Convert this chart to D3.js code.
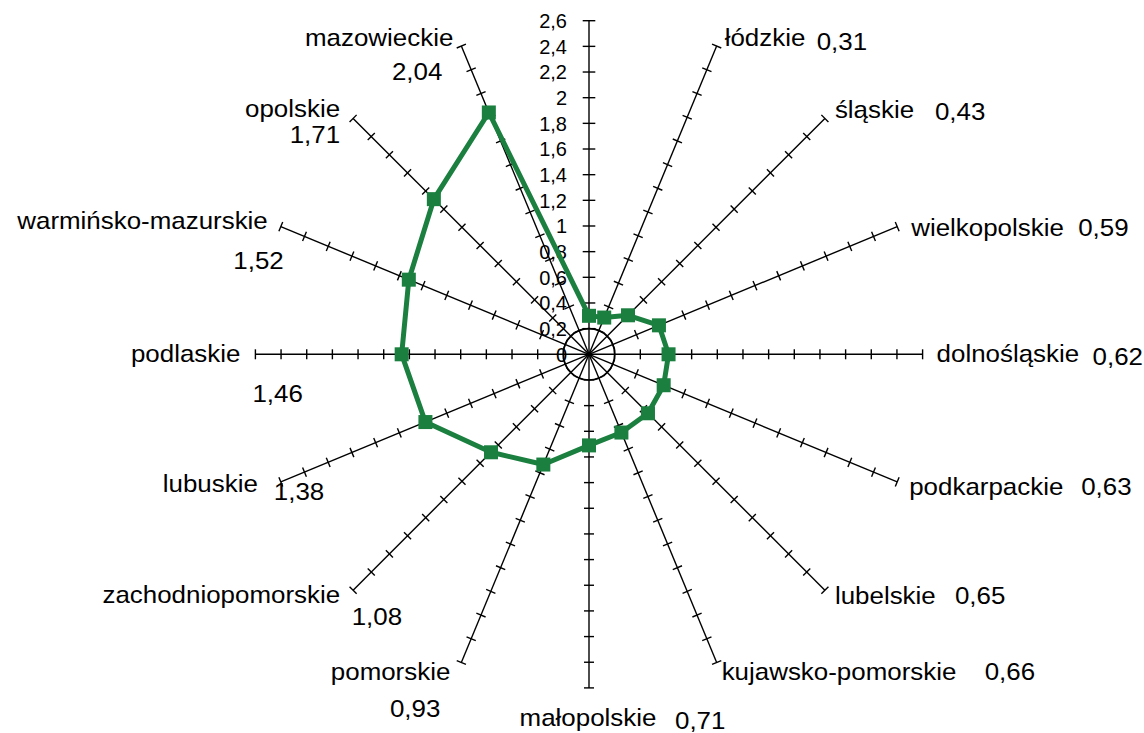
<!DOCTYPE html>
<html><head><meta charset="utf-8">
<script src="https://cdn.jsdelivr.net/npm/d3@7"></script>
<style>body{margin:0;background:#fff}svg{display:block}text{font-family:"Liberation Sans",Arial,sans-serif;fill:#000}</style>
</head><body><svg id="c" width="1144" height="733"></svg>
<script>
// ---- data ----
const categories = ["świętokrzyskie","łódzkie","śląskie","wielkopolskie","dolnośląskie","podkarpackie","lubelskie","kujawsko-pomorskie","małopolskie","pomorskie","zachodniopomorskie","lubuskie","podlaskie","warmińsko-mazurskie","opolskie","mazowieckie"];
const values = [0.30,0.31,0.43,0.59,0.62,0.63,0.65,0.66,0.71,0.93,1.08,1.38,1.46,1.52,1.71,2.04];
const labelShown = [false,true,true,true,true,true,true,true,true,true,true,true,true,true,true,true];
const tickValues = [0.2,0.4,0.6,0.8,1,1.2,1.4,1.6,1.8,2,2.2,2.4,2.6];
const tickLabels = ["0","0,2","0,4","0,6","0,8","1","1,2","1,4","1,6","1,8","2","2,2","2,4","2,6"];

// ---- label layout (offsets from each axis end) ----
const labelLayout = [
  null,
  {na:"start",ndx:8,ndy:0,va:"start",vdx:100,vdy:4},
  {na:"start",ndx:10,ndy:0,va:"start",vdx:110,vdy:2},
  {na:"start",ndx:14,ndy:9,va:"start",vdx:181,vdy:9},
  {na:"start",ndx:14,ndy:8,va:"start",vdx:170,vdy:11},
  {na:"start",ndx:12,ndy:13,va:"start",vdx:184,vdy:13},
  {na:"start",ndx:10,ndy:14,va:"start",vdx:130,vdy:14},
  {na:"start",ndx:5,ndy:17,va:"start",vdx:268,vdy:17},
  {na:"middle",ndx:-1,ndy:38,va:"start",vdx:86,vdy:41},
  {na:"end",ndx:-11,ndy:17,va:"end",vdx:-21,vdy:54},
  {na:"end",ndx:-13,ndy:13,va:"end",vdx:49,vdy:35},
  {na:"end",ndx:-23,ndy:10,va:"start",vdx:-7,vdy:18},
  {na:"end",ndx:-15,ndy:8,va:"start",vdx:-3,vdy:48},
  {na:"end",ndx:-13,ndy:2,va:"end",vdx:3,vdy:42},
  {na:"end",ndx:-13,ndy:-1,va:"end",vdx:-13,vdy:25},
  {na:"end",ndx:-8,ndy:0,va:"end",vdx:-19,vdy:34}
];

const cx = 589, cy = 354.3;
const maxV = 2.6;
const r = d3.scaleLinear().domain([0, maxV]).range([0, 333.6]);
const n = categories.length;
const angle = d3.scaleLinear().domain([0, n]).range([0, 2*Math.PI]);
const fmt = v => d3.format(".2f")(v).replace(".", ",");
const px = (i, v) => cx + r(v) * Math.sin(angle(i));
const py = (i, v) => cy - r(v) * Math.cos(angle(i));

const svg = d3.select("#c");
const g = svg.append("g");

// axes
categories.forEach((c, i) => {
  g.append("line").attr("x1", cx).attr("y1", cy).attr("x2", px(i, maxV)).attr("y2", py(i, maxV))
    .attr("stroke", "#000").attr("stroke-width", 1.4);
  const a = angle(i);
  const h = i === 0 ? 6.3 : 5;
  tickValues.forEach(t => {
    const x = px(i, t), y = py(i, t);
    g.append("line").attr("x1", x - h * Math.cos(a)).attr("y1", y - h * Math.sin(a))
      .attr("x2", x + h * Math.cos(a)).attr("y2", y + h * Math.sin(a))
      .attr("stroke", "#000").attr("stroke-width", 1.4);
  });
});
// centre circle
g.append("circle").attr("cx", cx).attr("cy", cy).attr("r", r(0.2))
  .attr("fill", "none").attr("stroke", "#000").attr("stroke-width", 1.6);

// value axis labels
const allTicks = [0].concat(tickValues);
g.selectAll("text.tl").data(allTicks).join("text").attr("class", "tl")
  .attr("x", cx - 22).attr("y", d => py(0, d) + 7.3)
  .attr("text-anchor", "end").attr("font-size", 20)
  .text((d, k) => tickLabels[k]);

// category labels
categories.forEach((c, i) => {
  if (!labelShown[i]) return;
  const L = labelLayout[i];
  const ex = px(i, maxV), ey = py(i, maxV);
  g.append("text").attr("transform", `translate(${ex + L.ndx},${ey + L.ndy}) scale(1.08,1)`)
    .attr("text-anchor", L.na).attr("font-size", 24).text(c);
  g.append("text").attr("transform", `translate(${ex + L.vdx},${ey + L.vdy}) scale(1.08,1)`)
    .attr("text-anchor", L.va).attr("font-size", 24).text(fmt(values[i]));
});

// series line
const color = "#1a7f3f";
const line = d3.lineRadial().angle((d, i) => angle(i)).radius(d => r(d)).curve(d3.curveLinearClosed);
g.append("path").attr("transform", `translate(${cx},${cy})`).attr("d", line(values))
  .attr("fill", "none").attr("stroke", color).attr("stroke-width", 5).attr("stroke-linejoin", "round");
const ms = 14;
g.selectAll("rect.m").data(values).join("rect").attr("class", "m")
  .attr("x", (d, i) => px(i, d) - ms / 2).attr("y", (d, i) => py(i, d) - ms / 2)
  .attr("width", ms).attr("height", ms).attr("fill", color);
</script></body></html>
